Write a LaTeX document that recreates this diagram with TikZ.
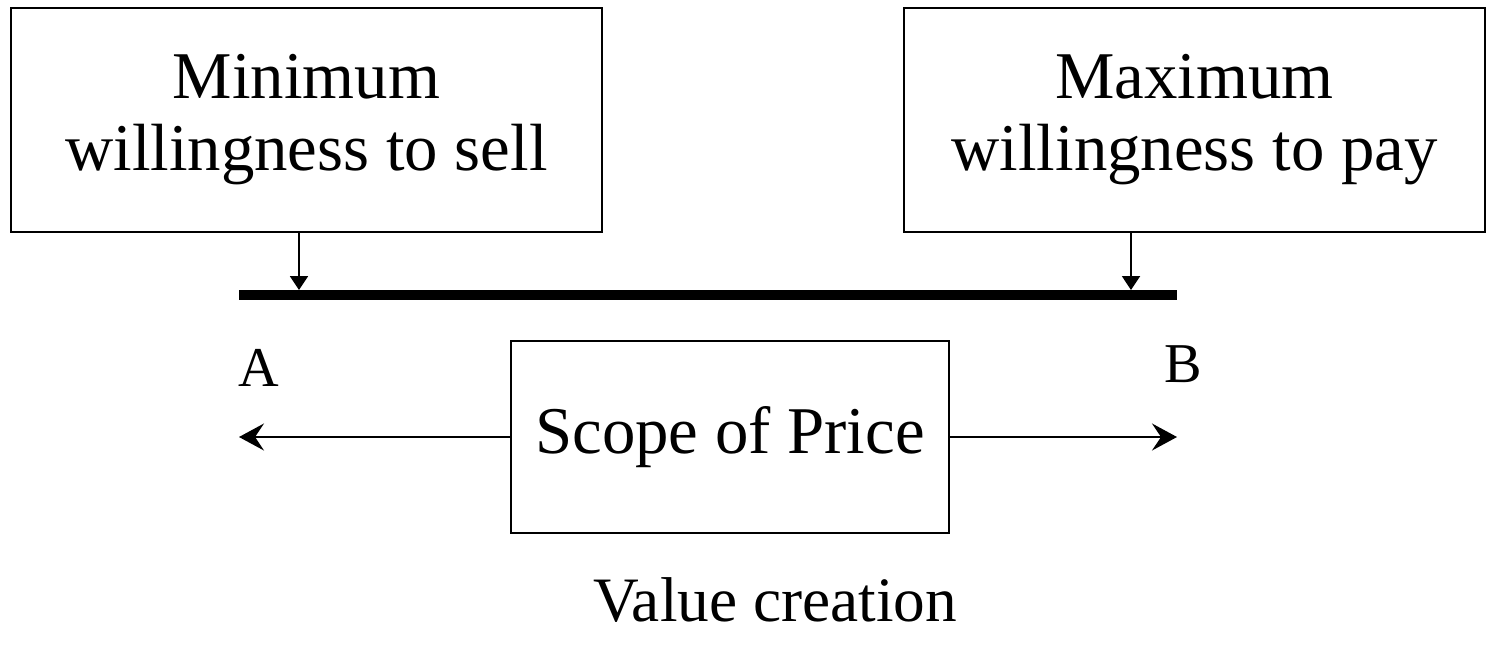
\documentclass[tikz,border=0pt]{standalone}
\usepackage{fontspec}
\setmainfont{Liberation Serif}
\usepackage{tikz}
\usetikzlibrary{calc}
\usetikzlibrary{arrows.meta}
\usetikzlibrary{positioning}
\tikzset{pricebox/.style={rectangle,draw=black,line width=1.1pt,align=center,inner sep=0pt,font=\fontsize{38}{41}\selectfont}}
\tikzset{pricebar/.style={line width=5.4pt}}
\tikzset{limitarrow/.style={line width=1.1pt,-{Triangle[length=0.28cm,width=0.36cm]}}}
\tikzset{rangearrow/.style={line width=1.1pt,-{Stealth[length=0.5cm,width=0.54cm,inset=0.18cm]}}}

\begin{document}
\begin{tikzpicture}
\useasboundingbox (0,0) rectangle (29.94,-13.04);

\node[pricebox,minimum width=11.82cm,minimum height=4.48cm] (minsell) at (6.13,-2.40) {Minimum\\willingness to sell};
\node[pricebox,minimum width=11.62cm,minimum height=4.48cm] (maxpay) at (23.89,-2.40) {Maximum\\willingness to pay};

\coordinate (lineL) at (4.78,-5.9);
\coordinate (lineR) at (23.54,-5.9);
\draw[pricebar] (lineL) -- (lineR);

\coordinate (selltip) at (5.98,-5.8);
\coordinate (paytip) at (22.62,-5.8);
\draw[limitarrow] (minsell.south -| selltip) -- (selltip);
\draw[limitarrow] (maxpay.south -| paytip) -- (paytip);

\node[pricebox,minimum width=8.76cm,minimum height=3.84cm] (scope) at (14.6,-8.74) {Scope of Price};
\draw[rangearrow] (scope.west) -- (scope.west -| lineL);
\draw[rangearrow] (scope.east) -- (scope.east -| lineR);

\node[font=\fontsize{32}{34}\selectfont] (A) at (5.18,-7.36) {A};
\node[font=\fontsize{32}{34}\selectfont] (B) at (23.66,-7.28) {B};

\node[font=\fontsize{36}{40}\selectfont] (valuecreation) at (15.5,-12.0) {Value creation};
\end{tikzpicture}
\end{document}
